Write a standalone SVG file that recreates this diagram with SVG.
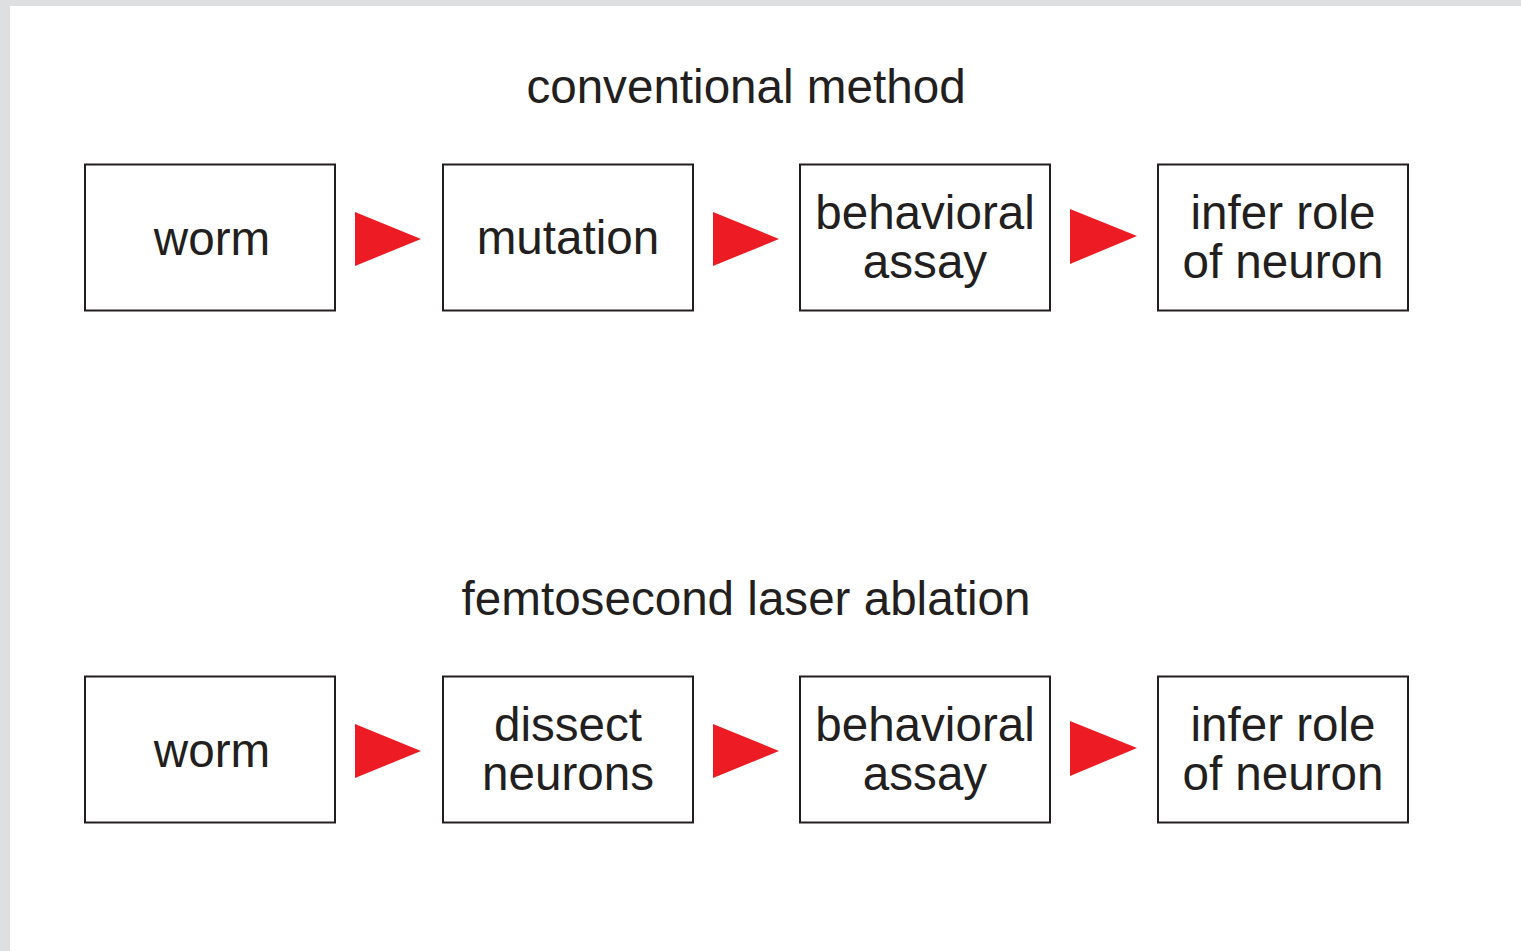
<svg xmlns="http://www.w3.org/2000/svg" width="1521" height="951" viewBox="0 0 1521 951">
<style>
.box{fill:#fff;stroke:#231f20;stroke-width:2}
.t{font-family:"Liberation Sans",Arial,Helvetica,sans-serif;font-size:47.6px;fill:#231f20;text-anchor:middle}
.arr{fill:#ed1c24}
</style>
<rect x="0" y="0" width="1521" height="951" fill="#dedfe0"/>
<rect x="10" y="6" width="1511" height="945" fill="#fff"/>
<text class="t" x="746" y="103">conventional method</text>
<text class="t" x="746" y="615">femtosecond laser ablation</text>
<g id="n1"><rect class="box" x="85" y="164.5" width="250" height="146"/><text class="t" x="212" y="255">worm</text></g>
<g id="n2"><rect class="box" x="443" y="164.5" width="250" height="146"/><text class="t" x="568" y="254">mutation</text></g>
<g id="n3"><rect class="box" x="800" y="164.5" width="250" height="146"/><text class="t" x="925" y="229">behavioral</text><text class="t" x="925" y="278">assay</text></g>
<g id="n4"><rect class="box" x="1158" y="164.5" width="250" height="146"/><text class="t" x="1283" y="229">infer role</text><text class="t" x="1283" y="278">of neuron</text></g>
<g id="n5"><rect class="box" x="85" y="676.5" width="250" height="146"/><text class="t" x="212" y="767">worm</text></g>
<g id="n6"><rect class="box" x="443" y="676.5" width="250" height="146"/><text class="t" x="568" y="741">dissect</text><text class="t" x="568" y="790">neurons</text></g>
<g id="n7"><rect class="box" x="800" y="676.5" width="250" height="146"/><text class="t" x="925" y="741">behavioral</text><text class="t" x="925" y="790">assay</text></g>
<g id="n8"><rect class="box" x="1158" y="676.5" width="250" height="146"/><text class="t" x="1283" y="741">infer role</text><text class="t" x="1283" y="790">of neuron</text></g>
<g id="connectors">
<polygon class="arr" points="355,212 421,239 355,266"/>
<polygon class="arr" points="713,212 779,239 713,266"/>
<polygon class="arr" points="1070,209 1137,236 1070,264"/>
<polygon class="arr" points="355,724 421,751 355,778"/>
<polygon class="arr" points="713,724 779,751 713,778"/>
<polygon class="arr" points="1070,721 1137,748 1070,776"/>
</g>
</svg>
